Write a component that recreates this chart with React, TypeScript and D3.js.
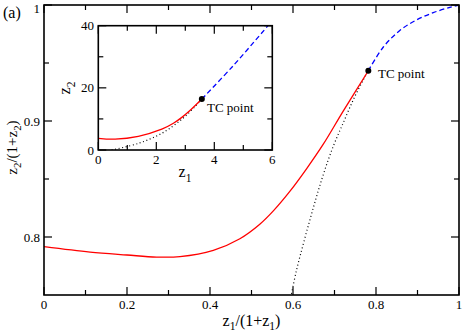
import React from 'react';
import * as d3 from 'd3';

// main panel: z1/(1+z1) vs z2/(1+z2)
const mainRedX = [0, 0.111, 0.2, 0.271, 0.3277, 0.408, 0.472, 0.52, 0.5526, 0.5928, 0.633, 0.673, 0.721, 0.7815];
const mainRedY = [0.7917, 0.787, 0.7845, 0.7827, 0.7831, 0.7885, 0.7985, 0.811, 0.8225, 0.8395, 0.859, 0.88, 0.9085, 0.9433];
const mainBlueX = [0.7815, 0.8177, 0.858, 0.898, 0.938, 0.978, 1.0];
const mainBlueY = [0.9433, 0.9638, 0.9782, 0.9872, 0.9934, 0.998, 1.0];
const mainDotX = [0.593, 0.609, 0.649, 0.673, 0.697, 0.721, 0.7453, 0.7694, 0.7815];
const mainDotY = [0.745, 0.7721, 0.8252, 0.8538, 0.8782, 0.8983, 0.9183, 0.9355, 0.9433];
const mainTC = [0.7815, 0.9433];

// inset: z1 vs z2
const insetRedX = [0, 0.58, 1.38, 2.19, 2.59, 2.88, 3.16, 3.57];
const insetRedY = [3.76, 3.5, 4.4, 6.7, 8.6, 10.5, 12.7, 16.4];
const insetBlueX = [3.57, 4.66, 5.85];
const insetBlueY = [16.4, 27.2, 40];
const insetDotX = [0.46, 1.39, 2.19, 2.88, 3.34, 3.57];
const insetDotY = [0, 2.15, 5.37, 9.9, 14.0, 16.4];
const insetTC = [3.57, 16.4];

const mainXMajor = [0, 0.2, 0.4, 0.6, 0.8, 1];
const mainXMinor = [0.1, 0.3, 0.5, 0.7, 0.9];
const mainXLabels = ['0', '0.2', '0.4', '0.6', '0.8', '1'];
const mainYMajor = [0.8, 0.9, 1];
const mainYMinor = [0.85, 0.95];
const mainYLabels = ['0.8', '0.9', '1'];
const insetXMajor = [0, 2, 4, 6];
const insetXMinor = [1, 3, 5];
const insetYMajor = [0, 20, 40];
const insetYMinor = [10, 30];

const FONT = "'Liberation Serif', 'Times New Roman', Times, serif";

const zip = (xs: number[], ys: number[]) => xs.map((x, i) => [x, ys[i]] as [number, number]);

// "zN/(1+zN)" with real subscripts; shifts in px so they cancel exactly
function Ratio({ n, size }: { n: string; size: number }) {
    const s = size * 0.28;
    const sub = size * 0.72;
    return (
        <>
            <tspan>z</tspan>
            <tspan dy={s} fontSize={sub}>{n}</tspan>
            <tspan dy={-s}>/(1+z</tspan>
            <tspan dy={s} fontSize={sub}>{n}</tspan>
            <tspan dy={-s}>)</tspan>
        </>
    );
}

function Frame({ x, y, xMajor, xMinor, yMajor, yMinor, major, minor }: any) {
    const [x0, x1] = x.range();
    const [y0, y1] = y.range();
    const ticks: React.ReactElement[] = [];
    const addX = (list: number[], len: number, tag: string) => {
        list.forEach((v, i) => {
            const px = x(v);
            ticks.push(<line key={`bx${tag}${i}`} x1={px} x2={px} y1={y0} y2={y0 - len} />);
            ticks.push(<line key={`tx${tag}${i}`} x1={px} x2={px} y1={y1} y2={y1 + len} />);
        });
    };
    const addY = (list: number[], len: number, tag: string) => {
        list.forEach((v, i) => {
            const py = y(v);
            ticks.push(<line key={`ly${tag}${i}`} x1={x0} x2={x0 + len} y1={py} y2={py} />);
            ticks.push(<line key={`ry${tag}${i}`} x1={x1} x2={x1 - len} y1={py} y2={py} />);
        });
    };
    addX(xMajor, major, 'M');
    addX(xMinor, minor, 'm');
    addY(yMajor, major, 'M');
    addY(yMinor, minor, 'm');
    return (
        <g stroke="#000" strokeWidth={1.2}>
            {ticks}
            <rect x={x0} y={y1} width={x1 - x0} height={y0 - y1} fill="none" strokeWidth={1.6} />
        </g>
    );
}

export default function App() {
    const W = 463, H = 333;
    const x = d3.scaleLinear().domain([0, 1]).range([44, 459]);
    const y = d3.scaleLinear().domain([0.75, 1]).range([295, 5]);
    const ix = d3.scaleLinear().domain([0, 6]).range([98.3, 272.3]);
    const iy = d3.scaleLinear().domain([0, 40]).range([150, 25.7]);

    const curve = d3.curveCatmullRom.alpha(0.5);
    const mline = d3.line<[number, number]>().x(d => x(d[0])).y(d => y(d[1])).curve(curve);
    const iline = d3.line<[number, number]>().x(d => ix(d[0])).y(d => iy(d[1])).curve(curve);

    return (
        <svg width={W} height={H} style={{ position: 'absolute', left: 0, top: 0, fontFamily: FONT }}>
            <rect width={W} height={H} fill="#fff" />
            <defs>
                <clipPath id="mainClip"><rect x={44} y={5} width={415} height={290} /></clipPath>
                <clipPath id="insetClip"><rect x={98.3} y={25.7} width={174} height={124.3} /></clipPath>
            </defs>

            {/* main curves */}
            <g clipPath="url(#mainClip)" fill="none">
                <path d={mline(zip(mainDotX, mainDotY)) || ''} stroke="#000" strokeWidth={1.2} strokeDasharray="1,2.6" />
                <path d={mline(zip(mainRedX, mainRedY)) || ''} stroke="#ff0000" strokeWidth={1.3} />
                <path d={mline(zip(mainBlueX, mainBlueY)) || ''} stroke="#0000ff" strokeWidth={1.3} strokeDasharray="5,3" />
            </g>
            <circle cx={x(mainTC[0])} cy={y(mainTC[1])} r={3} fill="#000" />
            <text x={378} y={78} fontSize={13}>TC point</text>

            <Frame x={x} y={y} xMajor={mainXMajor} xMinor={mainXMinor} yMajor={mainYMajor} yMinor={mainYMinor} major={8} minor={5} />

            {mainXMajor.map((v, i) => (
                <text key={`xl${i}`} x={x(v)} y={309} fontSize={13} textAnchor="middle">{mainXLabels[i]}</text>
            ))}
            {mainYMajor.map((v, i) => (
                <text key={`yl${i}`} x={40} y={Math.max(y(v), 8)} dy="0.35em" fontSize={13} textAnchor="end">{mainYLabels[i]}</text>
            ))}

            <text x={251.5} y={326} fontSize={16} textAnchor="middle"><Ratio n="1" size={16} /></text>
            <text transform="translate(17,147.5) rotate(-90)" fontSize={15} textAnchor="middle"><Ratio n="2" size={15} /></text>
            <text x={3} y={18} fontSize={16}>(a)</text>

            {/* inset */}
            <rect x={98.3} y={25.7} width={174} height={124.3} fill="#fff" />
            <g clipPath="url(#insetClip)" fill="none">
                <path d={iline(zip(insetDotX, insetDotY)) || ''} stroke="#000" strokeWidth={1.2} strokeDasharray="1,2.6" />
                <path d={iline(zip(insetRedX, insetRedY)) || ''} stroke="#ff0000" strokeWidth={1.3} />
                <path d={iline(zip(insetBlueX, insetBlueY)) || ''} stroke="#0000ff" strokeWidth={1.3} strokeDasharray="5,3" />
            </g>
            <circle cx={ix(insetTC[0])} cy={iy(insetTC[1])} r={3} fill="#000" />
            <text x={207} y={112} fontSize={13}>TC point</text>

            <Frame x={ix} y={iy} xMajor={insetXMajor} xMinor={insetXMinor} yMajor={insetYMajor} yMinor={insetYMinor} major={8} minor={5} />

            {insetXMajor.map((v, i) => (
                <text key={`ixl${i}`} x={ix(v)} y={164} fontSize={13} textAnchor="middle">{v}</text>
            ))}
            {insetYMajor.map((v, i) => (
                <text key={`iyl${i}`} x={94} y={iy(v)} dy="0.35em" fontSize={13} textAnchor="end">{v}</text>
            ))}
            <text x={185} y={177} fontSize={16} textAnchor="middle">
                <tspan>z</tspan><tspan dy={4.5} fontSize={11.5}>1</tspan>
            </text>
            <text transform="translate(70,88) rotate(-90)" fontSize={16} textAnchor="middle">
                <tspan>z</tspan><tspan dy={4.5} fontSize={11.5}>2</tspan>
            </text>
        </svg>
    );
}
